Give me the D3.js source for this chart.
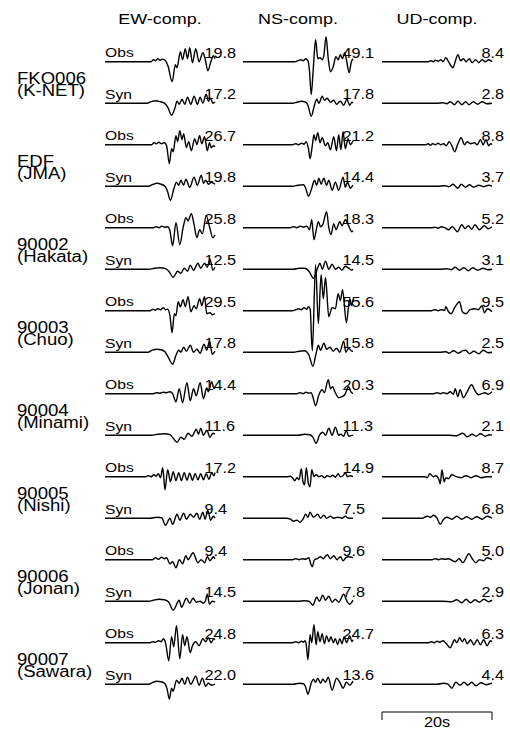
<!DOCTYPE html>
<html>
<head>
<meta charset="utf-8">
<script src="https://cdn.jsdelivr.net/npm/d3@7"></script>
<style>
  html, body { margin: 0; padding: 0; background: #fff; }
  svg { display: block; }
  text { font-family: "Liberation Sans", Arial, Helvetica, sans-serif; fill: #000; }
</style>
</head>
<body>
<svg id="chart" width="510" height="729"></svg>
<script>
// ---- station / component labels ----
const stations = ["FKO006", "EDF", "90002", "90003", "90004", "90005", "90006", "90007"];
const networks = ["(K-NET)", "(JMA)", "(Hakata)", "(Chuo)", "(Minami)", "(Nishi)", "(Jonan)", "(Sawara)"];
const components = ["EW-comp.", "NS-comp.", "UD-comp."];
const traceKinds = ["Obs", "Syn"];

// ---- peak velocities printed at the end of each trace ----
const peakEwObs = [19.8, 26.7, 25.8, 29.5, 14.4, 17.2, 9.4, 24.8];
const peakEwSyn = [17.2, 19.8, 12.5, 17.8, 11.6, 9.4, 14.5, 22.0];
const peakNsObs = [49.1, 21.2, 18.3, 55.6, 20.3, 14.9, 9.6, 24.7];
const peakNsSyn = [17.8, 14.4, 14.5, 15.8, 11.3, 7.5, 7.8, 13.6];
const peakUdObs = [8.4, 8.8, 5.2, 9.5, 6.9, 8.7, 5.0, 6.3];
const peakUdSyn = [2.8, 3.7, 3.1, 2.5, 2.1, 6.8, 2.9, 4.4];

// ---- waveforms: [time (s), relative amplitude] turning points, 20 s window ----
const ewObs = [
  [[0,0],[8.4,0],[8.8,4],[9.2,2],[9.6,6],[10.0,3],[10.5,5],[11.0,2],[11.5,-10],[12.2,-40],[12.8,-6],[13.1,-12],[13.7,20],[14.1,4],[14.6,26],[15.0,6],[15.4,28],[15.9,-2],[16.5,26],[17.1,0],[17.8,18],[18.2,6],[18.7,-18],[19.3,2],[19.7,12],[20,6]],
  [[0,0],[8.5,0],[8.9,4],[9.3,2],[9.8,5],[10.3,2],[10.8,4],[11.2,-2],[11.7,-38],[12.1,-8],[12.4,-14],[12.9,18],[13.2,6],[13.6,28],[14.0,10],[14.3,22],[14.8,-6],[15.2,6],[15.7,-12],[16.3,12],[16.7,0],[17.2,18],[17.6,2],[18.1,16],[18.6,-12],[19.0,4],[19.3,-6],[19.7,-2],[20,-4]],
  [[0,0],[8.8,0],[9.3,2],[9.8,0],[10.3,3],[10.9,1],[11.4,2],[11.8,-6],[12.3,-36],[12.9,10],[13.6,-34],[14.2,0],[14.7,20],[15.1,14],[15.7,28],[16.2,6],[16.7,-20],[17.2,-4],[17.7,-12],[18.4,24],[19.0,2],[19.6,-20],[20,-14]],
  [[0,0],[8.2,0],[8.7,3],[9.1,1],[9.6,4],[10.1,2],[10.6,6],[11.0,2],[11.4,3],[11.8,-10],[12.2,-44],[12.6,-6],[12.9,-10],[13.3,18],[13.7,8],[14.2,22],[14.6,8],[15.1,28],[15.6,-2],[16.2,10],[16.6,4],[17.2,24],[17.6,10],[18.1,28],[18.5,-6],[19.1,-4],[19.5,-8],[20,-6]],
  [[0,0],[8.8,0],[9.4,2],[10.0,1],[10.6,3],[11.2,2],[11.8,4],[12.3,0],[12.9,-16],[13.5,10],[14.1,-18],[14.9,22],[15.5,-14],[16.1,10],[16.6,-4],[17.3,22],[17.9,-10],[18.5,12],[18.8,4],[19.4,24],[19.8,10],[20,12]],
  [[0,0],[7.4,0],[7.9,2],[8.4,0],[8.9,4],[9.3,1],[9.7,6],[10.1,-2],[10.5,18],[10.9,-26],[11.4,14],[11.9,-10],[12.4,10],[12.9,-8],[13.4,8],[13.9,-8],[14.4,8],[14.9,-7],[15.4,7],[15.9,-7],[16.4,6],[16.9,-6],[17.4,6],[17.9,-6],[18.4,6],[18.9,-5],[19.4,8],[19.8,2],[20,8]],
  [[0,0],[8.6,0],[9.2,4],[9.7,1],[10.3,5],[10.8,2],[11.2,4],[11.8,-8],[12.3,-4],[12.9,-16],[13.5,0],[14.1,-8],[14.7,8],[15.1,0],[16.0,14],[16.9,-6],[17.5,0],[18.1,-6],[18.6,6],[19.1,-2],[19.7,6],[20,2]],
  [[0,0],[8.2,0],[8.7,2],[9.2,1],[9.7,4],[10.2,2],[10.6,8],[11.0,0],[11.6,-36],[12.1,12],[12.5,-8],[13.0,34],[13.6,-32],[14.1,16],[14.5,-6],[14.9,12],[15.5,-20],[15.9,-6],[16.5,2],[17.1,-6],[17.8,8],[18.3,2],[18.8,10],[19.3,0],[19.8,8],[20,6]]
];
const ewSyn = [
  [[0,0],[7.6,0],[8.4,3],[9.2,5],[10.0,3],[10.8,0],[11.4,-8],[12.1,-24],[12.7,-10],[13.1,4],[13.5,-2],[14.0,8],[14.5,-2],[15.0,12],[15.6,-2],[16.2,14],[16.8,-2],[17.3,12],[17.8,0],[18.4,18],[18.8,4],[19.2,10],[19.6,0],[20,2]],
  [[0,0],[7.8,0],[8.6,3],[9.4,6],[10.2,4],[10.9,0],[11.3,-8],[11.9,-28],[12.5,-6],[13.0,8],[13.4,2],[13.8,12],[14.3,2],[14.7,14],[15.4,-2],[16.2,18],[16.8,2],[17.5,22],[17.9,6],[18.3,12],[18.8,4],[19.3,8],[20,4]],
  [[0,0],[8.0,0],[9.0,2],[10.0,3],[11.0,1],[11.6,-4],[12.4,-16],[13.2,-4],[13.8,-8],[14.4,2],[15.0,-4],[15.5,8],[16.1,-2],[16.9,12],[17.4,2],[18.1,12],[18.6,4],[19.1,20],[19.6,-2],[20,4]],
  [[0,0],[7.8,0],[8.6,4],[9.4,6],[10.2,5],[10.9,1],[11.5,-10],[12.3,-24],[12.9,-6],[13.4,4],[13.8,0],[14.3,10],[14.8,2],[15.5,14],[16.1,0],[16.7,6],[17.3,-2],[18.0,16],[18.5,4],[19.0,22],[19.5,-4],[20,2]],
  [[0,0],[8.4,0],[9.6,2],[10.8,3],[11.8,1],[12.4,-6],[13.1,-14],[13.8,-4],[14.4,-8],[15.1,4],[15.8,-2],[16.6,12],[17.0,2],[17.4,14],[17.9,0],[18.5,10],[19.1,-4],[19.6,4],[20,2]],
  [[0,0],[8.2,0],[9.4,2],[10.3,1],[11.0,-14],[11.8,0],[12.3,-12],[13.1,8],[13.6,-4],[14.3,10],[14.8,-2],[15.5,8],[16.1,2],[16.7,10],[17.2,-2],[17.8,12],[18.2,-2],[18.7,16],[19.2,-4],[19.7,4],[20,0]],
  [[0,0],[8.0,0],[8.8,2],[9.8,4],[10.8,3],[11.6,-2],[12.4,-18],[13.5,2],[13.9,-12],[14.8,6],[15.4,-4],[16.0,6],[16.6,-2],[17.3,0],[17.9,-4],[18.3,2],[18.6,14],[19.0,-6],[19.5,0],[20,-2]],
  [[0,0],[7.9,0],[8.6,3],[9.4,6],[10.2,5],[10.9,1],[11.3,-10],[11.7,-30],[12.1,-8],[12.4,-14],[13.0,8],[13.5,2],[14.0,12],[14.5,0],[15.0,14],[15.6,0],[16.5,16],[17.1,-2],[17.7,12],[18.3,-4],[18.8,2],[19.4,-2],[20,0]]
];
const nsObs = [
  [[0,0],[9.4,0],[10.0,2],[10.5,4],[11.0,2],[11.4,6],[11.8,2],[12.1,-20],[12.4,-66],[12.8,-10],[13.2,44],[13.6,6],[14.0,8],[14.4,4],[14.7,12],[15.1,50],[15.5,6],[15.9,-20],[16.4,-10],[16.9,10],[17.3,4],[17.7,14],[18.1,6],[18.5,18],[18.8,4],[19.3,-22],[19.7,0],[20,6]],
  [[0,0],[9.0,0],[9.6,2],[10.1,0],[10.6,3],[11.1,1],[11.5,6],[11.9,-8],[12.2,-28],[12.6,-2],[12.9,20],[13.2,8],[13.6,24],[14.0,4],[14.4,14],[15.0,-2],[15.4,4],[15.9,-10],[16.5,16],[17.0,-12],[17.4,20],[17.8,-10],[18.2,26],[18.6,-8],[19.1,12],[19.5,0],[20,8]],
  [[0,0],[8.6,0],[9.2,2],[9.8,0],[10.4,3],[11.0,1],[11.6,3],[12.1,-4],[12.5,16],[12.9,-24],[13.4,0],[13.7,12],[14.1,2],[14.5,6],[15.2,32],[15.6,0],[16.0,-14],[16.5,8],[16.9,-4],[17.6,12],[18.0,4],[18.6,16],[19.2,4],[19.8,-8],[20,-6]],
  [[0,0],[9.0,0],[9.6,2],[10.1,4],[10.6,2],[11.1,6],[11.6,3],[11.9,8],[12.2,4],[12.6,-80],[13.2,92],[13.7,-26],[14.2,72],[14.6,24],[15.0,66],[15.6,-12],[16.2,6],[16.8,4],[17.3,34],[17.7,20],[18.1,42],[18.8,-24],[19.4,24],[19.8,10],[20,22]],
  [[0,0],[9.8,0],[10.4,2],[10.9,0],[11.4,3],[12.0,1],[12.4,2],[12.7,-6],[13.2,-24],[13.8,-2],[14.4,8],[14.8,2],[15.5,28],[15.9,10],[16.3,14],[16.7,4],[17.4,-8],[18.0,-6],[18.5,-2],[19.2,14],[19.6,4],[20,0]],
  [[0,0],[8.0,0],[8.6,1],[9.0,-2],[9.4,-8],[9.8,-2],[10.2,-6],[10.6,16],[10.9,-10],[11.2,-16],[11.5,18],[11.9,-14],[12.2,-20],[12.5,14],[12.9,0],[13.3,4],[13.8,0],[14.3,2],[14.8,-2],[15.3,2],[15.8,0],[16.3,3],[16.8,-1],[17.3,6],[17.7,0],[18.2,2],[18.6,8],[19.0,0],[19.5,2],[20,0]],
  [[0,0],[9.0,0],[9.6,2],[10.2,0],[10.8,2],[11.4,1],[12.0,4],[12.2,-4],[12.6,-14],[13.0,0],[13.5,2],[14.1,6],[14.6,2],[15.3,10],[15.9,2],[16.5,8],[17.1,0],[17.7,6],[18.2,-2],[18.7,4],[19.2,6],[20,4]],
  [[0,0],[9.0,0],[9.6,2],[10.1,0],[10.6,3],[11.0,1],[11.3,4],[11.5,-4],[11.8,-34],[12.2,16],[12.5,0],[12.9,36],[13.3,-4],[13.6,22],[14.0,2],[14.4,18],[14.8,-2],[15.2,14],[15.6,2],[16.0,12],[16.4,0],[16.8,8],[17.2,-4],[17.6,8],[18.0,-2],[18.4,12],[18.8,0],[19.4,14],[19.8,2],[20,6]]
];
const nsSyn = [
  [[0,0],[9.0,0],[9.8,2],[10.6,4],[11.4,2],[11.8,-4],[12.4,-26],[13.0,-4],[13.4,8],[13.8,0],[14.4,14],[14.8,6],[15.3,10],[15.9,2],[16.5,6],[17.0,-2],[17.7,4],[18.3,-4],[18.9,8],[19.4,-4],[19.8,2],[20,0]],
  [[0,0],[9.0,0],[10.0,2],[11.0,3],[11.4,-4],[11.9,-20],[12.5,-4],[13.0,12],[13.4,2],[13.8,16],[14.2,4],[14.7,16],[15.2,2],[15.6,12],[16.2,-8],[16.8,8],[17.4,-8],[18.2,18],[18.6,-2],[19.0,8],[19.5,-4],[20,2]],
  [[0,0],[9.2,0],[10.2,2],[11.2,2],[12.0,-4],[12.8,-18],[13.5,0],[14.0,12],[14.4,0],[15.0,16],[15.6,0],[16.2,10],[16.8,0],[17.4,4],[18.0,-2],[18.6,6],[19.2,2],[19.8,-2],[20,0]],
  [[0,0],[9.2,0],[10.2,2],[11.2,3],[12.0,-6],[12.7,-28],[13.3,-2],[13.7,14],[14.1,4],[14.7,18],[15.2,6],[15.8,10],[16.4,2],[17.0,8],[17.6,0],[18.3,22],[18.7,0],[19.2,8],[19.8,2],[20,2]],
  [[0,0],[10.0,0],[11.2,2],[12.2,1],[12.7,-4],[13.3,-16],[13.9,0],[14.5,6],[15.0,0],[15.6,14],[16.2,0],[16.8,16],[17.4,0],[17.8,2],[18.3,-2],[18.8,10],[19.2,-2],[20,0]],
  [[0,0],[8.0,0],[8.6,-2],[9.2,-6],[9.8,-4],[10.4,-8],[10.9,-2],[11.4,8],[11.8,2],[12.2,12],[12.8,2],[13.6,8],[14.1,0],[14.7,6],[15.2,0],[15.9,4],[16.5,0],[17.3,2],[18.0,0],[18.6,4],[19.2,0],[20,0]],
  [[0,0],[10.0,0],[11.2,1],[12.0,0],[12.7,-8],[13.4,8],[13.9,0],[14.5,12],[15.0,2],[15.6,10],[16.2,-2],[16.8,4],[17.4,-2],[18.3,14],[18.9,0],[19.4,-6],[20,2]],
  [[0,0],[9.2,0],[10.2,2],[11.0,1],[11.4,-6],[11.8,-20],[12.4,2],[12.8,10],[13.2,4],[13.6,12],[14.1,2],[14.5,10],[15.0,4],[15.5,14],[16.2,-12],[17.0,12],[17.6,4],[18.2,-8],[18.8,4],[19.4,-2],[20,6]]
];
const udObs = [
  [[0,0],[8.4,0],[8.9,2],[9.3,0],[9.7,3],[10.2,1],[10.7,4],[11.1,0],[11.6,8],[12.2,-2],[12.9,-12],[13.3,0],[13.8,14],[14.3,2],[14.8,6],[15.3,0],[15.9,6],[16.4,-2],[17.0,4],[17.6,-2],[18.2,4],[18.8,0],[19.4,4],[20,0]],
  [[0,0],[8.0,0],[8.4,2],[8.8,-1],[9.2,2],[9.7,0],[10.2,3],[10.7,0],[11.2,2],[11.7,-2],[12.2,6],[12.7,-2],[13.2,-14],[13.8,2],[14.4,14],[15.0,0],[15.5,6],[16.1,2],[16.8,4],[17.3,0],[17.9,10],[18.4,0],[18.9,10],[19.4,-2],[19.8,2],[20,0]],
  [[0,0],[9.0,0],[9.6,1],[10.2,-1],[10.8,2],[11.4,0],[12.1,-4],[12.8,2],[13.7,-8],[14.5,6],[15.1,-2],[15.7,4],[16.3,-3],[16.9,6],[17.7,-4],[18.6,4],[19.3,-2],[20,2]],
  [[0,0],[9.0,0],[9.6,2],[10.2,0],[10.8,2],[11.4,1],[11.6,8],[12.1,-2],[12.6,-6],[13.2,6],[14.1,18],[14.6,-2],[15.3,-6],[16.0,2],[16.9,4],[17.5,2],[18.2,10],[18.6,-4],[19.2,4],[20,-2]],
  [[0,0],[9.4,0],[10.0,2],[10.6,0],[11.2,2],[11.8,0],[12.4,4],[13.0,-1],[13.3,10],[13.8,-6],[14.2,8],[14.8,-8],[15.4,2],[16.3,18],[16.9,6],[17.5,-2],[18.1,0],[18.7,2],[19.3,-1],[20,4]],
  [[0,0],[7.8,0],[8.2,-2],[8.7,6],[9.3,0],[9.8,2],[10.3,-4],[10.6,-14],[10.9,14],[11.3,-10],[11.6,-2],[12.1,-4],[12.7,4],[13.5,0],[14.4,-2],[15.3,2],[16.2,-2],[17.1,2],[18.0,-2],[19.0,0],[20,0]],
  [[0,0],[9.1,0],[9.7,2],[10.3,0],[10.9,2],[11.5,1],[12.1,2],[12.7,-1],[13.3,-4],[14.0,2],[14.7,-6],[15.8,12],[16.4,2],[17.1,-6],[17.7,0],[18.5,-2],[19.1,4],[20,0]],
  [[0,0],[8.5,0],[9.0,2],[9.5,0],[10.0,3],[10.5,1],[11.1,4],[11.7,-2],[12.4,-10],[13.2,6],[13.6,0],[14.1,10],[14.6,2],[15.0,8],[15.5,-2],[16.1,6],[16.7,-4],[17.3,6],[17.9,-4],[18.5,6],[19.1,-6],[19.7,4],[20,2]]
];
const udSyn = [
  [[0,0],[10.0,0],[11.0,1],[11.8,-1],[12.4,3],[13.2,-3],[13.8,4],[14.5,-3],[15.2,3],[15.8,-3],[16.6,3],[17.4,-2],[18.2,3],[19.0,-1],[20,0]],
  [[0,0],[10.0,0],[11.4,1],[12.2,-1],[12.9,4],[13.8,-4],[14.4,4],[15.2,-2],[15.9,3],[16.7,-2],[17.6,2],[18.5,-1],[19.4,2],[20,0]],
  [[0,0],[10.5,0],[11.8,1],[12.6,-1],[13.3,4],[14.1,-2],[14.9,3],[15.7,-3],[16.5,3],[17.4,-2],[18.4,2],[19.2,-1],[20,0]],
  [[0,0],[10.5,0],[11.6,1],[12.2,-2],[13.0,3],[13.9,-2],[14.7,3],[15.2,4],[15.9,-3],[16.7,2],[17.6,-3],[18.4,4],[19.3,-1],[20,0]],
  [[0,0],[12.0,0],[13.6,-1],[14.7,4],[15.5,-3],[16.4,2],[17.1,-2],[17.9,3],[18.8,-2],[19.6,1],[20,0]],
  [[0,0],[7.4,0],[8.2,4],[8.8,2],[9.4,6],[10.0,0],[10.6,-12],[11.2,-2],[11.8,2],[12.7,-2],[13.6,4],[14.5,-2],[15.4,3],[16.3,-2],[17.2,3],[18.2,-2],[19.1,4],[20,0]],
  [[0,0],[11.0,0],[12.7,-1],[13.6,3],[14.5,-3],[15.3,4],[16.1,-3],[16.9,3],[17.7,-2],[18.5,4],[19.4,-1],[20,2]],
  [[0,0],[10.0,0],[11.2,2],[12.0,0],[12.7,-8],[13.4,4],[14.2,-2],[14.9,4],[15.6,-2],[16.3,4],[17.1,-3],[18.0,3],[18.9,-1],[20,2]]
];

// ---- layout ----
const svg = d3.select("#chart");
const FONT_STRETCH = 1.16;          // the lettering is set slightly wide
const colLeft = [105, 243, 382];    // left edge of each component column
const windowSec = 20;

const time = d3.scaleLinear().domain([0, windowSec]).range([0, 110]);
const amp = d3.scaleLinear().domain([-100, 100]).range([50, -50]);
const row = d3.scaleLinear().domain([0, 15]).range([61.7, 684.2]);   // 8 stations x (Obs, Syn)

const line = d3.line()
  .x(d => time(d[0]))
  .y(d => amp(d[1]))
  .curve(d3.curveMonotoneX);

function wideText(g, x, y, str, size, anchor) {
  return g.append("text")
    .attr("transform", `translate(${x},${y}) scale(${FONT_STRETCH},1)`)
    .attr("text-anchor", anchor || "start")
    .style("font-size", size + "px")
    .text(str);
}

// column headers
components.forEach((c, j) => {
  wideText(svg, colLeft[j] + time(windowSec / 2), 24, c, 15.5, "middle");
});

const columns = [
  { obs: ewObs, syn: ewSyn, pObs: peakEwObs, pSyn: peakEwSyn },
  { obs: nsObs, syn: nsSyn, pObs: peakNsObs, pSyn: peakNsSyn },
  { obs: udObs, syn: udSyn, pObs: peakUdObs, pSyn: peakUdSyn }
];

stations.forEach((name, s) => {
  const yObs = row(2 * s), ySyn = row(2 * s + 1);
  const mid = (yObs + ySyn) / 2;

  // station name + network, two tightly set lines
  wideText(svg, 17, mid + 1.5, name, 16);
  wideText(svg, 17, mid + 14, networks[s], 16);

  // Obs / Syn tags above the EW traces
  wideText(svg, colLeft[0], yObs - 4.5, traceKinds[0], 13.5);
  wideText(svg, colLeft[0], ySyn - 4.5, traceKinds[1], 13.5);

  columns.forEach((col, j) => {
    [[col.obs[s], col.pObs[s], yObs], [col.syn[s], col.pSyn[s], ySyn]].forEach(([wave, peak, y0]) => {
      const g = svg.append("g").attr("transform", `translate(${colLeft[j]},${y0})`);
      g.append("path")
        .attr("d", line(wave))
        .attr("fill", "none")
        .attr("stroke", "#000")
        .attr("stroke-width", 1.4)
        .attr("stroke-linejoin", "round");
      wideText(g, time(18.1), -4, peak.toFixed(1), 14);
    });
  });
});

// time scale bar under the UD column
const barY = 712;
const bar = svg.append("g").attr("transform", `translate(${colLeft[2]},${barY})`);
bar.append("path")
  .attr("d", `M${time(0)},8V0H${time(windowSec)}V8`)
  .attr("fill", "none")
  .attr("stroke", "#000")
  .attr("stroke-width", 1);
wideText(bar, time(windowSec / 2), 15, `${windowSec}s`, 14, "middle");
</script>
</body>
</html>
